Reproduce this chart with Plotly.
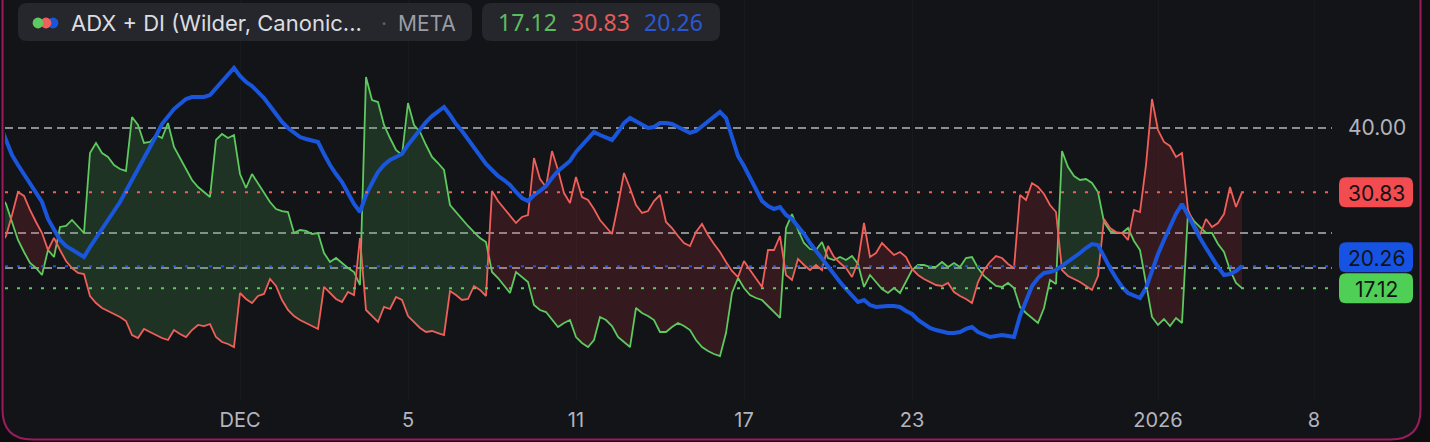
import plotly.graph_objects as go

# ADX + DI (Wilder) on META, hourly bars
plus_di = [
    30.43, 29.14, 26.57, 24.0, 22.29, 20.71, 20.0, 19.0, 22.57, 21.57,
    25.86, 26.0, 26.86, 25.86, 25.0, 36.43, 37.86, 36.43, 35.86, 34.71,
    34.14, 33.86, 41.57, 40.43, 37.86, 38.0, 39.0, 38.57, 40.71, 37.29,
    35.71, 34.29, 32.57, 31.57, 30.86, 30.14, 38.29, 39.14, 38.57, 39.0,
    33.43, 31.43, 33.43, 32.14, 30.86, 29.43, 28.43, 28.14, 28.0, 25.0,
    25.43, 25.29, 24.86, 25.0, 22.14, 20.86, 21.43, 20.71, 20.0, 19.43,
    17.57, 47.29, 44.0, 43.71, 40.43, 38.57, 36.86, 36.14, 43.57, 40.43,
    39.43, 37.57, 35.86, 35.0, 34.0, 29.0, 28.0, 26.86, 26.0, 25.14,
    24.29, 23.71, 19.43, 18.57, 17.57, 16.43, 19.43, 18.71, 18.0, 14.71,
    14.0, 13.71, 12.57, 11.57, 12.14, 12.57, 10.14, 9.29, 8.71, 9.71,
    13.0, 12.57, 11.71, 10.14, 9.43, 8.71, 14.29, 13.57, 13.14, 12.57,
    10.86, 10.86, 11.57, 12.14, 11.71, 11.14, 9.71, 8.71, 8.14, 7.71,
    7.43, 10.71, 16.43, 18.57, 17.14, 16.14, 15.71, 15.43, 14.57, 13.71,
    12.86, 25.71, 27.71, 25.43, 23.57, 22.71, 22.57, 23.71, 21.43, 21.14,
    21.57, 21.14, 21.71, 20.57, 17.29, 19.0, 18.0, 17.0, 16.43, 17.14,
    16.43, 18.0, 19.71, 20.43, 20.43, 20.14, 20.14, 20.86, 20.14, 20.71,
    20.14, 21.43, 21.57, 20.0, 18.86, 18.14, 17.43, 17.29, 17.86, 17.14,
    14.43, 13.57, 12.86, 12.14, 14.29, 18.29, 17.71, 36.71, 34.43, 33.14,
    32.57, 32.71, 32.14, 30.86, 26.57, 25.29, 25.0, 25.0, 25.71, 23.86,
    22.57, 17.86, 13.0, 11.86, 12.71, 11.71, 12.86, 12.14, 28.0, 26.71,
    25.86, 25.0, 25.0, 23.43, 22.29, 19.71, 17.86, 17.12,
]

minus_di = [
    23.29, 24.57, 27.57, 30.86, 30.29, 28.29, 26.57, 25.0, 22.57, 24.29,
    22.57, 21.0, 20.0, 19.29, 19.14, 16.0, 15.0, 14.29, 13.86, 13.43,
    13.0, 12.43, 10.43, 10.0, 11.29, 10.86, 10.43, 10.0, 9.71, 11.14,
    10.57, 10.14, 11.14, 11.86, 11.71, 12.0, 10.14, 9.43, 9.14, 8.71,
    16.43, 15.57, 15.0, 16.0, 16.29, 18.43, 17.43, 15.43, 14.0, 13.14,
    12.57, 12.14, 11.71, 11.29, 17.29, 16.43, 15.57, 15.14, 16.57, 16.14,
    24.29, 14.0, 13.14, 12.29, 14.43, 14.14, 15.86, 15.43, 13.14, 12.29,
    11.43, 10.86, 11.0, 10.71, 10.43, 16.71, 16.14, 15.43, 15.57, 17.43,
    16.86, 16.0, 31.0, 29.57, 28.57, 27.57, 26.43, 27.29, 27.57, 35.71,
    32.71, 31.57, 36.71, 34.0, 30.71, 29.29, 33.0, 30.14, 29.71, 28.43,
    26.86, 25.86, 24.86, 29.0, 33.57, 31.43, 29.0, 27.86, 28.14, 29.57,
    30.43, 26.57, 25.71, 24.57, 23.57, 23.14, 25.14, 26.29, 24.71, 23.43,
    22.29, 20.86, 19.57, 18.71, 21.0, 19.71, 18.43, 17.29, 22.57, 22.57,
    24.57, 19.0, 18.29, 21.29, 20.43, 19.71, 20.43, 19.71, 23.14, 21.57,
    20.71, 20.0, 18.71, 20.86, 26.43, 21.57, 22.14, 23.57, 22.71, 21.86,
    22.29, 21.57, 19.86, 19.0, 18.43, 18.0, 17.57, 17.43, 17.86, 16.57,
    16.0, 15.57, 15.0, 18.0, 19.71, 20.86, 21.71, 21.43, 20.57, 20.0,
    30.43, 29.71, 32.14, 31.57, 30.57, 29.0, 28.0, 19.71, 18.86, 18.43,
    18.0, 17.43, 16.86, 18.86, 27.0, 25.71, 25.14, 25.0, 24.0, 28.29,
    28.0, 34.71, 44.14, 39.71, 38.0, 37.43, 35.86, 36.43, 28.29, 26.29,
    24.71, 27.0, 25.86, 26.43, 27.71, 31.57, 28.71, 30.83,
]

adx = [
    40.43, 38.29, 36.14, 34.71, 33.43, 32.14, 30.71, 29.43, 27.0, 25.43,
    24.0, 23.14, 22.57, 22.0, 21.57, 23.0, 24.29, 25.43, 26.71, 28.0,
    29.43, 31.0, 32.57, 34.0, 35.43, 37.0, 38.86, 40.57, 41.71, 42.71,
    43.43, 44.14, 44.43, 44.43, 44.43, 44.71, 45.71, 46.71, 47.71, 48.57,
    47.43, 46.57, 46.0, 45.14, 44.29, 43.14, 42.0, 40.86, 40.0, 39.29,
    38.71, 38.43, 38.14, 38.0, 36.29, 34.71, 33.43, 32.29, 30.71, 29.14,
    28.0, 30.43, 32.14, 33.71, 34.71, 35.43, 35.86, 36.29, 37.57, 38.71,
    39.86, 40.86, 41.71, 42.43, 43.0, 41.86, 40.57, 39.57, 38.43, 37.14,
    36.0, 34.86, 34.0, 33.14, 32.57, 31.86, 30.86, 30.0, 29.57, 30.43,
    31.0, 31.71, 32.86, 33.86, 34.57, 35.29, 36.57, 37.57, 38.57, 39.43,
    39.0, 38.57, 38.29, 39.43, 40.71, 41.43, 41.0, 40.43, 40.0, 40.14,
    40.71, 40.71, 40.57, 40.14, 39.71, 39.29, 39.57, 40.29, 41.0, 41.71,
    42.29, 41.43, 38.57, 36.0, 34.57, 32.86, 31.0, 29.57, 28.86, 28.43,
    28.71, 27.57, 27.0, 26.0, 24.86, 23.57, 22.43, 21.29, 20.29, 19.14,
    18.0, 17.0, 16.14, 15.14, 15.43, 14.71, 14.43, 14.57, 14.57, 14.57,
    14.43, 13.86, 13.43, 12.57, 12.0, 11.43, 11.14, 10.86, 10.71, 10.71,
    10.86, 11.29, 11.57, 10.86, 10.43, 10.14, 10.29, 10.43, 10.29, 10.14,
    13.14, 15.43, 17.43, 18.57, 19.29, 19.43, 19.71, 20.29, 20.86, 21.57,
    22.14, 22.86, 23.43, 23.29, 21.57, 20.0, 18.57, 17.29, 16.43, 16.0,
    15.71, 17.14, 19.57, 22.0, 24.0, 26.0, 27.71, 29.14, 27.43, 25.71,
    24.29, 22.86, 21.43, 20.14, 19.0, 19.14, 19.57, 20.26,
]

bars = list(range(len(plus_di)))

# time axis: first bar of each labelled session
tick_bars = [40, 68, 96, 124, 152, 193, 219]
tick_text = ["DEC", "5", "11", "17", "23", "2026", "8"]

level_lines = [40, 25, 20]
scale_labels = [40]

symbol = "META"
study_title = "ADX + DI (Wilder, Canonic..."

# ---- colours -------------------------------------------------------------
BG = "#131418"
OUTER = "#0e0e10"
FRAME = "#9b1b5e"
PILL = "#25272c"
TXT = "#dcdde0"
MUTED = "#9a9ca3"
GREEN = "#5ec95e"
RED = "#f05f5a"
BLUE = "#1a56db"
GREEN_FILL = "rgba(76,175,80,0.20)"
RED_FILL = "rgba(242,54,69,0.15)"
FONT = "Inter"
NUM_FONT = "Noto Sans"

# ---- canvas geometry -------------------------------------------------------
W, H = 1430, 442
ML, MR, MT, MB = 5, 98, 0, 42
PW, PH = W - ML - MR, H - MT - MB
PX_PER_BAR = 6.0
PX_PER_UNIT = 7.0
x_range = [ML / PX_PER_BAR, (W - MR) / PX_PER_BAR]
y_range = [40 - (PH - 128) / PX_PER_UNIT, 40 + 128 / PX_PER_UNIT]


def fx(px):
    return (px - ML) / PW


def fy(py):
    return (MT + PH - py) / PH


def val_to_py(v):
    return MT + (y_range[1] - v) / (y_range[1] - y_range[0]) * PH


def rounded_path(x0, y0, x1, y1, r):
    pts = [
        ("M", [(x0 + r, y0)]), ("L", [(x1 - r, y0)]), ("Q", [(x1, y0), (x1, y0 + r)]),
        ("L", [(x1, y1 - r)]), ("Q", [(x1, y1), (x1 - r, y1)]),
        ("L", [(x0 + r, y1)]), ("Q", [(x0, y1), (x0, y1 - r)]),
        ("L", [(x0, y0 + r)]), ("Q", [(x0, y0), (x0 + r, y0)]),
    ]
    out = []
    for cmd, ps in pts:
        out.append(cmd + " " + " ".join(f"{fx(a):.6f},{fy(b):.6f}" for a, b in ps))
    return " ".join(out) + " Z"


def frame_path(x0, x1, y_bottom, r, y_top=-20):
    segs = [
        f"M {fx(x0):.6f},{fy(y_top):.6f}",
        f"L {fx(x0):.6f},{fy(y_bottom - r):.6f}",
        f"Q {fx(x0):.6f},{fy(y_bottom):.6f} {fx(x0 + r):.6f},{fy(y_bottom):.6f}",
        f"L {fx(x1 - r):.6f},{fy(y_bottom):.6f}",
        f"Q {fx(x1):.6f},{fy(y_bottom):.6f} {fx(x1):.6f},{fy(y_bottom - r):.6f}",
        f"L {fx(x1):.6f},{fy(y_top):.6f} Z",
    ]
    return " ".join(segs)


def fill_runs(x, a, b):
    """Split the band between a and b into runs of constant sign."""
    runs = []
    cx, ca, cb = [x[0]], [a[0]], [b[0]]
    sign = 1 if a[0] >= b[0] else -1
    for i in range(1, len(x)):
        d0 = a[i - 1] - b[i - 1]
        d1 = a[i] - b[i]
        if d0 * d1 < 0:
            t = d0 / (d0 - d1)
            xc = x[i - 1] + t * (x[i] - x[i - 1])
            yc = a[i - 1] + t * (a[i] - a[i - 1])
            cx.append(xc); ca.append(yc); cb.append(yc)
            runs.append((sign, cx, ca, cb))
            cx, ca, cb = [xc], [yc], [yc]
            sign = 1 if d1 > 0 else -1
        cx.append(x[i]); ca.append(a[i]); cb.append(b[i])
    runs.append((sign, cx, ca, cb))
    return runs


fig = go.Figure()

for sign, xs, av, bv in fill_runs(bars, plus_di, minus_di):
    fig.add_trace(go.Scatter(
        x=xs + xs[::-1], y=av + bv[::-1], mode="lines", fill="toself",
        fillcolor=GREEN_FILL if sign > 0 else RED_FILL,
        line=dict(width=0), hoverinfo="skip", showlegend=False,
    ))

fig.add_trace(go.Scatter(x=bars, y=plus_di, mode="lines",
                         line=dict(color=GREEN, width=1.8), hoverinfo="skip", showlegend=False))
fig.add_trace(go.Scatter(x=bars, y=minus_di, mode="lines",
                         line=dict(color=RED, width=1.8), hoverinfo="skip", showlegend=False))
fig.add_trace(go.Scatter(x=bars, y=adx, mode="lines",
                         line=dict(color=BLUE, width=4), hoverinfo="skip", showlegend=False))

shapes = []
# pane background inside the rounded frame
shapes.append(dict(type="path", xref="paper", yref="paper",
                   path=frame_path(2.5, W - 9.5, H - 2.5, 30),
                   fillcolor=BG, line=dict(color=FRAME, width=2), layer="below"))

# horizontal levels
for lv in level_lines:
    shapes.append(dict(type="line", xref="paper", yref="y", x0=0, x1=1, y0=lv, y1=lv,
                       line=dict(color="rgba(160,162,168,0.85)", width=2, dash="8px,5px"),
                       layer="below"))

# last value price lines
last_vals = [(plus_di[-1], GREEN, "#4fcf55"), (minus_di[-1], RED, "#f24b50"), (adx[-1], BLUE, "#1653e3")]
for v, c, _ in last_vals:
    shapes.append(dict(type="line", xref="paper", yref="y", x0=0, x1=1, y0=v, y1=v,
                       line=dict(color=c, width=2, dash="3px,9px"), layer="above"))

annotations = []

# price scale badges, stacked so they never overlap
BADGE_H = 31
placed = []
for v, c, badge in sorted(last_vals, key=lambda t: t[0]):
    cy = val_to_py(v)
    if placed and cy > placed[-1] - BADGE_H:
        cy = placed[-1] - BADGE_H
    placed.append(cy)
    shapes.append(dict(type="path", xref="paper", yref="paper",
                       path=rounded_path(1339, cy - BADGE_H / 2 + 0.5, 1413, cy + BADGE_H / 2 - 0.5, 7),
                       fillcolor=badge, line=dict(width=0), layer="above"))
    annotations.append(dict(xref="paper", yref="paper", x=fx(1376), y=fy(cy + 1),
                            text=f"{v:.2f}", showarrow=False, xanchor="center", yanchor="middle",
                            font=dict(family=FONT, size=21, color="#121316")))

# legend pills
shapes.append(dict(type="path", xref="paper", yref="paper",
                   path=rounded_path(18, 3, 472, 41, 9), fillcolor=PILL, line=dict(width=0), layer="above"))
shapes.append(dict(type="path", xref="paper", yref="paper",
                   path=rounded_path(482, 3, 720, 41, 9), fillcolor=PILL, line=dict(width=0), layer="above"))

for cx, col in [(53, BLUE), (46, RED), (38, GREEN)]:
    r = 5.4
    shapes.append(dict(type="circle", xref="paper", yref="paper",
                       x0=fx(cx - r), x1=fx(cx + r), y0=fy(23 + r), y1=fy(23 - r),
                       fillcolor=col, line=dict(width=0), layer="above"))

annotations.append(dict(xref="paper", yref="paper", x=fx(69), y=fy(23), text=study_title,
                        showarrow=False, xanchor="left", yanchor="middle",
                        font=dict(family=FONT, size=22, color=TXT)))
annotations.append(dict(xref="paper", yref="paper", x=fx(384), y=fy(23), text="·",
                        showarrow=False, xanchor="center", yanchor="middle",
                        font=dict(family=FONT, size=21, color="#5d6068")))
annotations.append(dict(xref="paper", yref="paper", x=fx(396), y=fy(23), text=symbol,
                        showarrow=False, xanchor="left", yanchor="middle",
                        font=dict(family=FONT, size=21, color=MUTED)))

# current values in the second pill
for v, c, left in [(plus_di[-1], "#5dbb60", 496), (minus_di[-1], "#e35b5b", 569), (adx[-1], "#2b57d2", 642)]:
    annotations.append(dict(xref="paper", yref="paper", x=fx(left), y=fy(22), text=f"{v:.2f}",
                            showarrow=False, xanchor="left", yanchor="middle",
                            font=dict(family=NUM_FONT, size=23, color=c)))

fig.update_layout(
    width=W, height=H,
    margin=dict(l=ML, r=MR, t=MT, b=MB, pad=0),
    paper_bgcolor=OUTER, plot_bgcolor="rgba(0,0,0,0)",
    shapes=shapes, annotations=annotations,
    showlegend=False,
    xaxis=dict(range=x_range, tickvals=tick_bars, ticktext=tick_text,
               showgrid=True, gridcolor="rgba(255,255,255,0.025)", zeroline=False,
               showline=False, ticks="", ticklabelstandoff=6,
               tickfont=dict(family=FONT, size=20, color="#b2b5be")),
    yaxis=dict(range=y_range, side="right", tickvals=scale_labels,
               ticktext=[f"{v:.2f}" for v in scale_labels],
               showgrid=False, zeroline=False, showline=False, ticks="",
               ticklabelstandoff=15,
               tickfont=dict(family=FONT, size=21, color="#b2b5be")),
)

fig.write_html("out.html")
